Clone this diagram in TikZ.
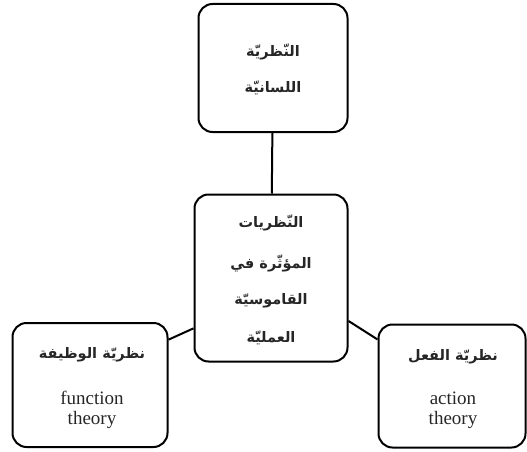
\documentclass[tikz,border=0pt]{standalone}
\usepackage{fontspec}
\setmainfont{Liberation Serif}
\newfontfamily\arabicfont[Script=Arabic]{DejaVu Sans}
\TeXXeTstate=1
\usetikzlibrary{positioning}
\tikzset{theory box/.style={rectangle,draw,black,line width=2pt,rounded corners=14pt,
                            inner sep=0pt,align=center},
         ar/.style={font=\arabicfont\bfseries\fontsize{14.5}{38}\selectfont,text=black!85},
         en/.style={align=center,font=\fontsize{19}{20}\selectfont,text=black!85}}

\begin{document}
\begin{tikzpicture}[x=1pt,y=-1pt]
\useasboundingbox (0,0) rectangle (527,452);

\node[theory box,minimum width=149pt,minimum height=128pt] (LING) at (273,68) {};
\node[theory box,minimum width=153pt,minimum height=167pt] (CORE) at (271,278) {};
\node[theory box,minimum width=155pt,minimum height=124pt] (FUNC) at (90,385) {};
\node[theory box,minimum width=147pt,minimum height=123pt] (ACT) at (452,386) {};

% texts
\node[ar] (L1) at (273,52) {\beginR النّظريّة\endR};
\node[ar] (L2) at (273,88) {\beginR اللسانيّة\endR};

\node[ar] (C1) at (271,223) {\beginR النّظريات\endR};
\node[ar] (C2) at (271,263) {\beginR المؤثّرة في\endR};
\node[ar] (C3) at (271,301) {\beginR القاموسيّة\endR};
\node[ar] (C4) at (271,338) {\beginR العمليّة\endR};

\node[ar] (F1) at (92,355) {\beginR نظريّة الوظيفة\endR};
\node[en] (F2) at (92,410) {function\\theory};

\node[ar] (A1) at (453,357) {\beginR نظريّة الفعل\endR};
\node[en] (A2) at (453,410) {action\\theory};

% links
\draw[line width=2pt] (LING) -- (CORE);
\draw[line width=2pt] (FUNC.30) -- (CORE.213);
\draw[line width=2pt] (CORE.331) -- (ACT.148);

\end{tikzpicture}
\end{document}
